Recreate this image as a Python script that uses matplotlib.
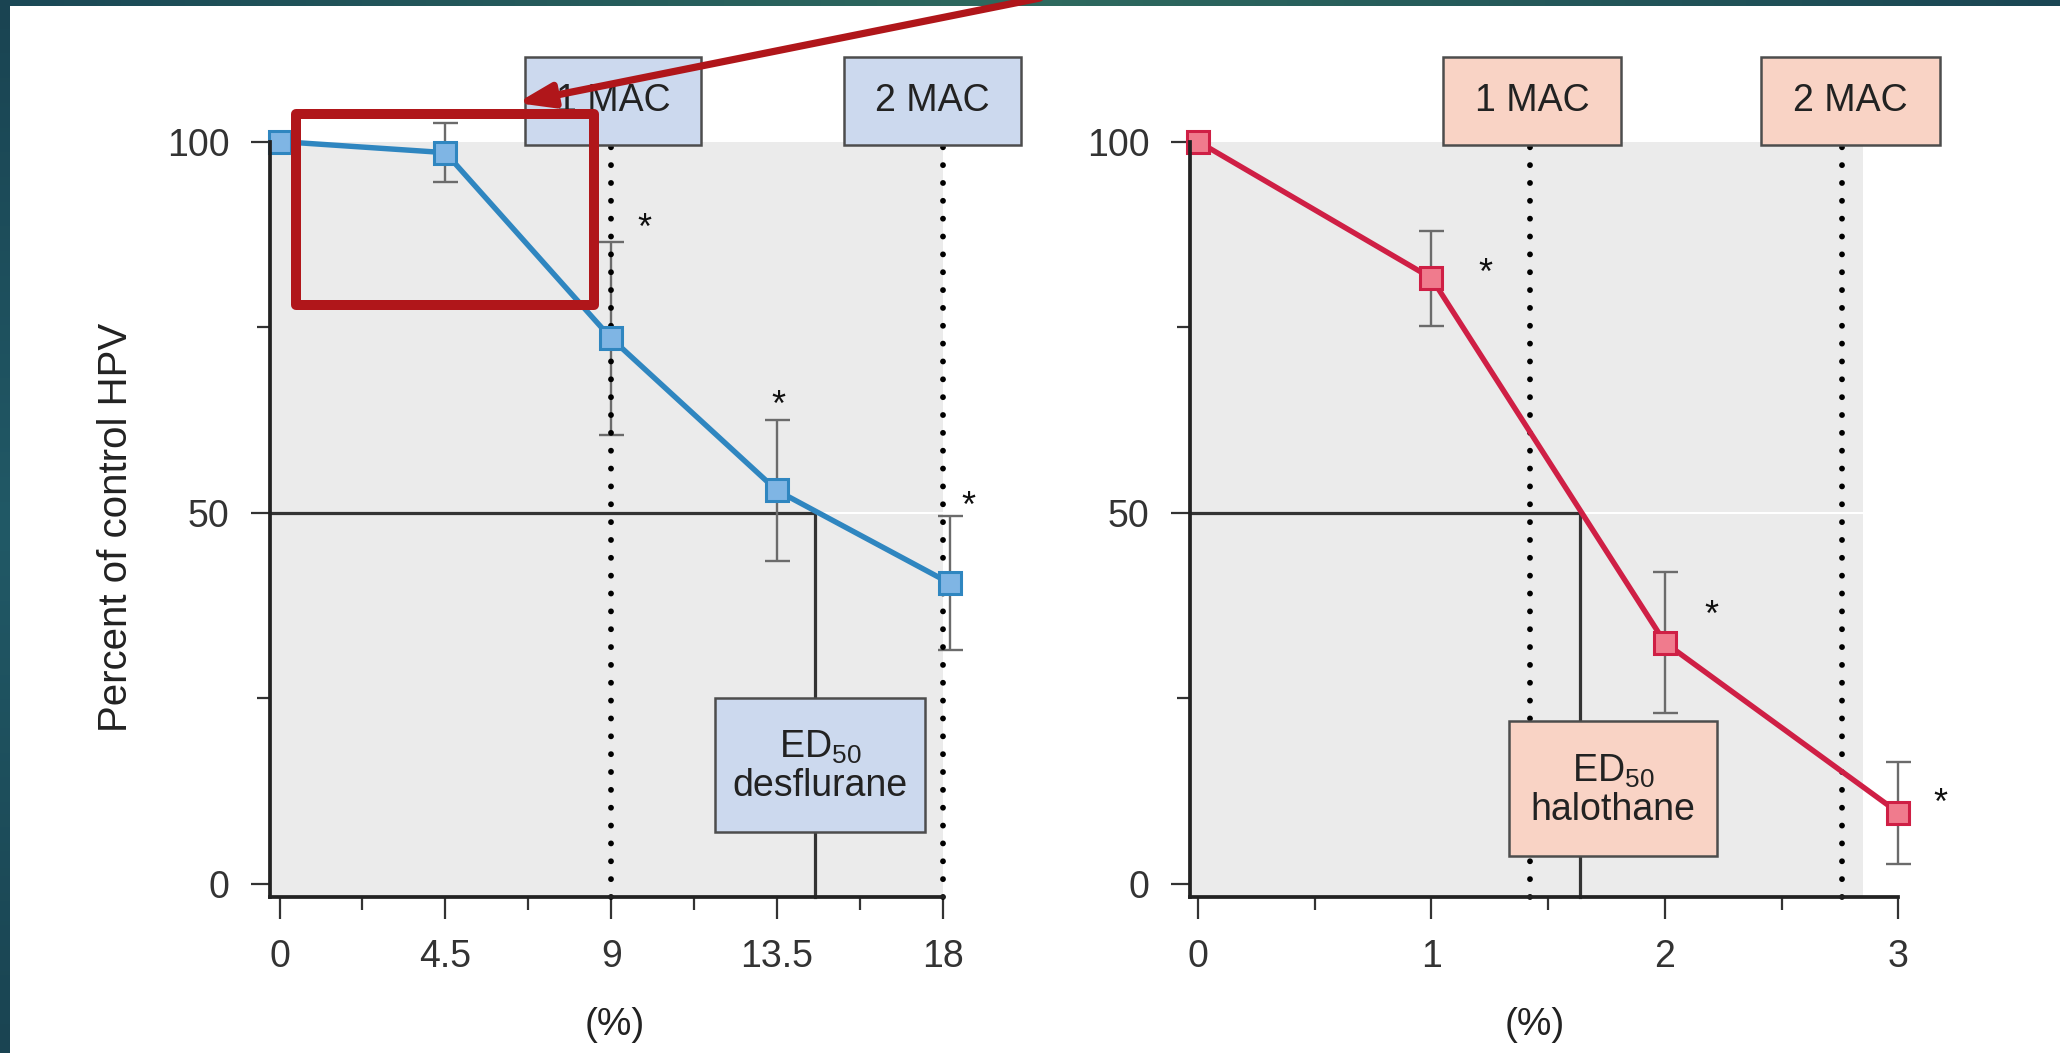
import numpy as np
import matplotlib.pyplot as plt
from matplotlib.patches import Rectangle
from matplotlib.colors import LinearSegmentedColormap

plt.rcParams['font.family'] = ['Liberation Sans', 'DejaVu Sans']
plt.rcParams['mathtext.default'] = 'regular'

# desflurane (left panel)
des_x = [0, 4.5, 9, 13.5, 18.2]
des_y = [100, 98.5, 73.5, 53, 40.5]
des_err = [0, 4, 13, 9.5, 9]
des_star_x = [9.9, 13.55, 18.7]
des_star_y = [89.7, 65.8, 52.3]
des_mac = [9, 18]
des_ed50 = 14.54
des_ticks = [0, 4.5, 9, 13.5, 18]
des_tick_labels = ['0', '4.5', '9', '13.5', '18']
des_minor = [2.25, 6.75, 11.25, 15.75]

# halothane (right panel)
hal_x = [0, 1, 2, 3]
hal_y = [100, 81.6, 32.5, 9.6]
hal_err = [0, 6.4, 9.5, 6.9]
hal_star_x = [1.23, 2.2, 3.18]
hal_star_y = [83.6, 37.6, 12.3]
hal_mac = [1.42, 2.76]
hal_ed50 = 1.634
hal_ticks = [0, 1, 2, 3]
hal_tick_labels = ['0', '1', '2', '3']
hal_minor = [0.5, 1.5, 2.5]

mac_labels = ['1 MAC', '2 MAC']
y_ticks = [0, 50, 100]
y_minor = [25, 75]
ymin = -1.8

fig = plt.figure(figsize=(20.6, 10.53), dpi=100)
fig.patch.set_facecolor('white')

ax1 = fig.add_axes([0.13107, 0.14777, 0.32655, 0.71785])
ax2 = fig.add_axes([0.57767, 0.14777, 0.34393, 0.71785])


def draw_panel(ax, x, y, err, star_x, star_y, mac, ed50, ticks, tick_labels, minor,
               xlim, gray_end, line_c, face_c, box_c, mac_boxes, ed_box, ed_name):
    ax.set_xlim(*xlim)
    ax.set_ylim(ymin, 100)
    ax.set_facecolor('white')
    ax.add_patch(Rectangle((xlim[0], ymin), gray_end - xlim[0], 100 - ymin,
                           fc='#ebebeb', ec='none', zorder=0))
    # faint white line at 50 past the ED50 line
    ax.plot([ed50, gray_end], [50, 50], color='white', lw=1.5, zorder=0.5)

    # MAC dotted lines
    for m in mac:
        ax.plot([m, m], [ymin, 99.6], color='black', lw=4.2,
                ls=(0, (0.01, 3.05)), dash_capstyle='round', zorder=3)

    # ED50 lines
    ax.plot([xlim[0], ed50, ed50], [50, 50, ymin], color='#333333', lw=2.3, zorder=1)

    x = np.array(x)
    y = np.array(y)
    err = np.array(err)
    m = err > 0
    ax.errorbar(x[m], y[m], yerr=err[m], fmt='none', ecolor='#6b6b6b',
                elinewidth=1.7, capsize=9, capthick=1.7, zorder=2)
    ax.plot(x, y, color=line_c, lw=3.9, marker='s', markersize=16,
            markerfacecolor=face_c, markeredgecolor=line_c, markeredgewidth=2.2, zorder=4)

    for sx, sy in zip(star_x, star_y):
        ax.annotate('*', (sx, sy), xytext=(0, -15), textcoords='offset points',
                    ha='center', va='baseline', fontsize=26, color='#111111',
                    annotation_clip=False)

    # MAC boxes
    for (bx0, bx1, by0, by1), lab in zip(mac_boxes, mac_labels):
        ax.add_patch(Rectangle((bx0, by0), bx1 - bx0, by1 - by0, fc=box_c,
                               ec='#4d4d4d', lw=1.8, zorder=5, clip_on=False))
        ax.text((bx0 + bx1) / 2, (by0 + by1) / 2, lab, ha='center', va='center',
                fontsize=27, color='#222222', zorder=6)

    bx0, bx1, by0, by1 = ed_box
    ax.add_patch(Rectangle((bx0, by0), bx1 - bx0, by1 - by0, fc=box_c,
                           ec='#4d4d4d', lw=1.8, zorder=5, clip_on=False))
    cx, cy = (bx0 + bx1) / 2, (by0 + by1) / 2
    ax.text(cx, cy + 2.4, 'ED$_{50}$', ha='center', va='center', fontsize=27,
            color='#222222', zorder=6)
    ax.text(cx, cy - 2.9, ed_name, ha='center', va='center', fontsize=27,
            color='#222222', zorder=6)

    for a in ax.lines + ax.collections + ax.texts + ax.patches:
        a.set_clip_on(False)

    ax.spines['top'].set_visible(False)
    ax.spines['right'].set_visible(False)
    for s in ['left', 'bottom']:
        ax.spines[s].set_linewidth(2.7)
        ax.spines[s].set_color('#222222')
        ax.spines[s].set_zorder(7)

    ax.set_xticks(ticks)
    ax.set_xticklabels(tick_labels)
    ax.set_xticks(minor, minor=True)
    ax.set_yticks(y_ticks)
    ax.set_yticks(y_minor, minor=True)
    ax.tick_params(which='both', color='#333333', width=1.6, labelsize=27,
                   labelcolor='#333333')
    ax.tick_params(axis='x', which='major', length=16, pad=14)
    ax.tick_params(axis='y', which='major', length=14, pad=15)
    ax.tick_params(which='minor', length=9.5)


draw_panel(ax1, des_x, des_y, des_err, des_star_x, des_star_y, des_mac, des_ed50,
           des_ticks, des_tick_labels, des_minor, (-0.26, 18), 18,
           '#2f86c0', '#7fb5e4', '#ccd9ee',
           [(6.675, 11.45, 99.5, 111.4), (15.31, 20.13, 99.5, 111.4)],
           (11.83, 17.53, 7.04, 25.1), 'desflurane')
draw_panel(ax2, hal_x, hal_y, hal_err, hal_star_x, hal_star_y, hal_mac, hal_ed50,
           hal_ticks, hal_tick_labels, hal_minor, (-0.034, 3), 2.848,
           '#cf1f45', '#f07b8d', '#f9d3c5',
           [(1.048, 1.812, 99.5, 111.4), (2.411, 3.178, 99.5, 111.4)],
           (1.331, 2.224, 3.77, 21.9), 'halothane')

ax1.set_ylabel('Percent of control HPV', fontsize=29, color='#222222')
ax1.yaxis.label.set_va('center')
ax1.yaxis.set_label_coords(-0.2295, 0.49)
for ax, lx in [(ax1, 0.513), (ax2, 0.486)]:
    ax.set_xlabel('(%)', fontsize=28, color='#222222')
    ax.xaxis.label.set_va('center')
    ax.xaxis.set_label_coords(lx, -0.169)

# slide overlay: border bands and red highlight
ov = fig.add_axes([0, 0, 1, 1], zorder=10)
ov.axis('off')
ov.patch.set_alpha(0)

top_cmap = LinearSegmentedColormap.from_list('top', ['#1a4856', '#2e6a5f', '#1a4654'])
ov.imshow(np.linspace(0, 1, 256)[None, :], cmap=top_cmap, extent=(0, 2060, 6, 0),
          aspect='auto')
left_cmap = LinearSegmentedColormap.from_list('left', ['#1a4452', '#215966', '#1a4452'])
ov.imshow(np.linspace(0, 1, 256)[:, None], cmap=left_cmap, extent=(0, 10, 1053, 0),
          aspect='auto')
ov.set_xlim(0, 2060)
ov.set_ylim(1053, 0)

red = '#b0161a'
ov.add_patch(Rectangle((296, 114), 298, 191, fc='none', ec=red, lw=7.2,
                       joinstyle='round'))
ov.annotate('', xy=(517, 103), xytext=(1040, -2),
            arrowprops=dict(arrowstyle='-|>,head_length=1.3,head_width=0.45',
                            lw=5.2, color=red, mutation_scale=16,
                            shrinkA=0, shrinkB=0))

fig.savefig('out.png', dpi=100)
